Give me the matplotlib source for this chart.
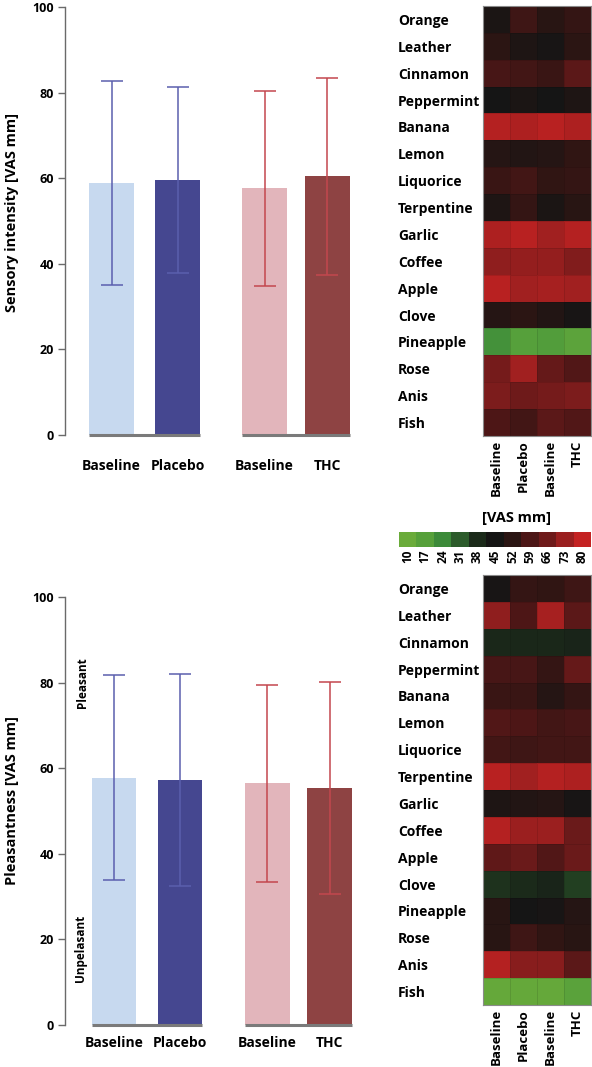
import matplotlib
matplotlib.use('Agg')
import matplotlib.pyplot as plt
import numpy as np
from matplotlib.colors import LinearSegmentedColormap, Normalize

FONT = ['Open Sans', 'DejaVu Sans']
plt.rcParams['font.family'] = FONT
plt.rcParams['font.weight'] = 'bold'

# ---------------- data ----------------
conditions = ['Baseline', 'Placebo', 'Baseline', 'THC']

intensity_mean = [58.9, 59.6, 57.6, 60.4]
intensity_sd = [23.9, 21.8, 22.8, 23.0]

pleasant_mean = [57.8, 57.2, 56.5, 55.4]
pleasant_sd = [23.9, 24.7, 23.0, 24.7]

odors = ['Orange', 'Leather', 'Cinnamon', 'Peppermint', 'Banana', 'Lemon',
         'Liquorice', 'Terpentine', 'Garlic', 'Coffee', 'Apple', 'Clove',
         'Pineapple', 'Rose', 'Anis', 'Fish']

intensity_heat = [
    [47, 56, 51, 54],   # Orange
    [52, 48, 46, 52],   # Leather
    [58, 57, 55, 62],   # Cinnamon
    [45, 47, 45, 48],   # Peppermint
    [77, 76, 78, 76],   # Banana
    [50, 49, 50, 53],   # Lemon
    [55, 57, 53, 54],   # Liquorice
    [48, 54, 47, 51],   # Terpentine
    [76, 78, 74, 77],   # Garlic
    [71, 72, 72, 69],   # Coffee
    [78, 74, 75, 74],   # Apple
    [50, 52, 49, 46],   # Clove
    [22, 17, 18, 15],   # Pineapple
    [67, 74, 64, 60],   # Rose
    [68, 66, 67, 68],   # Anis
    [59, 57, 62, 60],   # Fish
]

pleasant_heat = [
    [46, 54, 53, 56],   # Orange
    [71, 59, 75, 62],   # Leather
    [39, 39, 39, 40],   # Cinnamon
    [58, 58, 54, 64],   # Peppermint
    [55, 55, 50, 54],   # Banana
    [60, 59, 57, 58],   # Lemon
    [57, 56, 57, 57],   # Liquorice
    [78, 74, 77, 76],   # Terpentine
    [48, 49, 50, 46],   # Garlic
    [77, 73, 73, 65],   # Coffee
    [63, 65, 60, 65],   # Apple
    [37, 38, 40, 35],   # Clove
    [51, 45, 46, 50],   # Pineapple
    [51, 56, 53, 51],   # Rose
    [77, 70, 70, 62],   # Anis
    [12, 12, 12, 16],   # Fish
]

scale_levels = [10, 17, 24, 31, 38, 45, 52, 59, 66, 73, 80]

# ---------------- styles ----------------
scale_colors = ['#6aab3a', '#56a03b', '#3c8a39', '#2c5b2b', '#1b2a1a', '#151515',
                '#2b1513', '#4c1616', '#6e1a1a', '#9a1f1f', '#c42222']
cmap = LinearSegmentedColormap.from_list('gkr', scale_colors)
norm = Normalize(vmin=10, vmax=80)

bar_colors = ['#c7d9ef', '#454790', '#e2b5bb', '#8e4343']
err_colors = ['#5b5fae', '#5b5fae', '#c3474e', '#c3474e']

W, H = 592, 1067
fig = plt.figure(figsize=(W / 100, H / 100), dpi=100)


def fx(px):
    return px / W


def fy(px):
    return 1 - px / H


def bar_panel(top_px, bottom_px, left_px, right_px, x0, means, sds, label_pad):
    ax = fig.add_axes([fx(left_px), fy(bottom_px), fx(right_px - left_px),
                       (bottom_px - top_px) / H])
    pos = np.array([0, 1, 2.32, 3.27])
    w = 0.68
    ax.bar(pos, means, width=w, color=bar_colors, zorder=1)
    for p, m, s, ec in zip(pos, means, sds, err_colors):
        ax.errorbar(p, m, yerr=s, color=ec, capsize=8, elinewidth=1.1,
                    capthick=1.1, zorder=3)
    for a, b in [(0, 1), (2, 3)]:
        ax.hlines(0, pos[a] - w / 2, pos[b] + w / 2, color='#7a7a7a', lw=2.2,
                  clip_on=False, zorder=4)
    ax.set_ylim(0, 100)
    scale = 66.0
    ax.set_xlim(x0, x0 + (right_px - left_px) / scale)
    for s in ['top', 'right', 'bottom']:
        ax.spines[s].set_visible(False)
    ax.spines['left'].set_color('#6a6a6a')
    ax.spines['left'].set_linewidth(1.0)
    ax.set_yticks([0, 20, 40, 60, 80, 100])
    ax.tick_params(axis='y', direction='out', length=5, width=1,
                   color='#6a6a6a', labelsize=9, pad=3)
    for t in ax.get_yticklabels():
        t.set_fontweight('bold')
    ax.set_xticks(pos)
    ax.set_xticklabels(conditions, fontsize=10, fontweight='bold')
    ax.tick_params(axis='x', length=0, pad=label_pad)
    ax.patch.set_alpha(0)
    return ax


ax1 = bar_panel(7, 435, 65, 365, -0.705, intensity_mean, intensity_sd, 17)
fig.text(fx(12), fy(212), 'Sensory intensity [VAS mm]', rotation=90,
         ha='center', va='center', fontsize=10.5, fontweight='bold')

ax2 = bar_panel(597, 1025, 65, 365, -0.742, pleasant_mean, pleasant_sd, 8)
fig.text(fx(12), fy(801), 'Pleasantness [VAS mm]', rotation=90,
         ha='center', va='center', fontsize=10.5, fontweight='bold')
ax2.text(-0.47, 80, 'Pleasant', rotation=90, ha='center', va='center',
         fontsize=8.5, fontweight='bold')
ax2.text(-0.50, 18, 'Unpelasant', rotation=90, ha='center', va='center',
         fontsize=8.5, fontweight='bold')


def heat_panel(top_px, bottom_px, data):
    ax = fig.add_axes([fx(483), fy(bottom_px), fx(591 - 483),
                       (bottom_px - top_px) / H])
    arr = np.array(data, dtype=float)
    ax.pcolormesh(arr, cmap=cmap, norm=norm, edgecolors=(0, 0, 0, 0.10),
                  linewidth=0.6)
    ax.set_xlim(0, arr.shape[1])
    ax.set_ylim(arr.shape[0], 0)
    ax.set_yticks(np.arange(arr.shape[0]) + 0.5)
    ax.set_yticklabels(odors, fontsize=10, fontweight='bold')
    for t in ax.get_yticklabels():
        t.set_horizontalalignment('left')
    ax.tick_params(axis='y', length=0, pad=(483 - 398) * 0.72)
    ax.set_xticks(np.arange(arr.shape[1]) + 0.5)
    ax.set_xticklabels(conditions, rotation=90, fontsize=9.5,
                       fontweight='bold', va='top')
    ax.tick_params(axis='x', length=0, pad=3)
    for s in ax.spines.values():
        s.set_color('#8a8a8a')
        s.set_linewidth(0.8)
    return ax


heat_panel(6, 436, intensity_heat)
heat_panel(575, 1005, pleasant_heat)

# colour scale
cax = fig.add_axes([fx(399), fy(547), fx(591 - 399), 15 / H])
cax.imshow(np.array(scale_levels, dtype=float)[None, :], cmap=cmap, norm=norm,
           aspect='auto', extent=(0, len(scale_levels), 0, 1))
cax.set_yticks([])
cax.set_xticks(np.arange(len(scale_levels)) + 0.5)
cax.set_xticklabels([str(v) for v in scale_levels], rotation=90, fontsize=8.5,
                    fontweight='bold', va='top')
cax.tick_params(axis='x', length=0, pad=2)
for s in cax.spines.values():
    s.set_visible(False)
fig.text(fx(516), fy(518), '[VAS mm]', ha='center', va='center', fontsize=10.5,
         fontweight='bold')

fig.savefig('out.png', dpi=100)
